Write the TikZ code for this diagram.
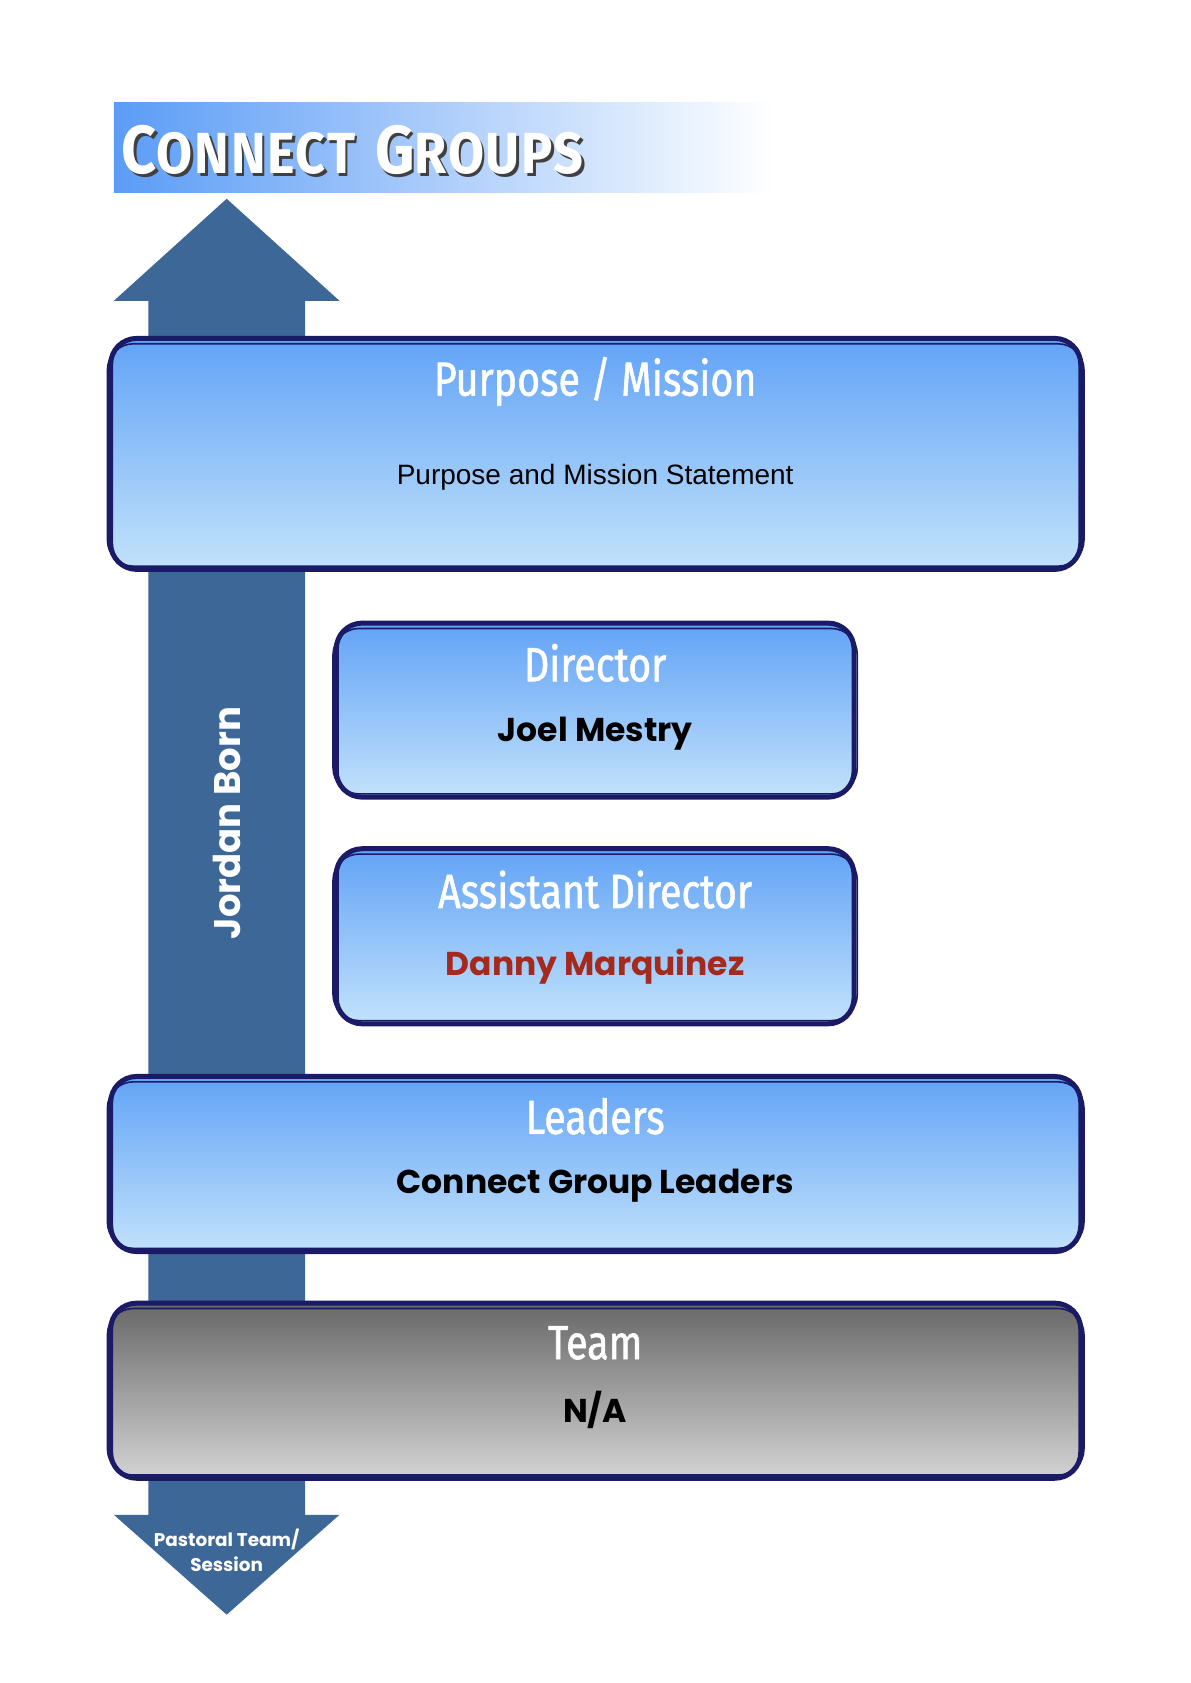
\documentclass[tikz,border=0pt]{standalone}
\usepackage{fontspec}
\setmainfont{Liberation Sans}
\newfontfamily\headfont[FakeStretch=0.82,FakeBold=1.2]{Fira Sans}
\newfontfamily\namefont{Poppins}
\newfontfamily\bannerfont[FakeStretch=0.9,LetterSpace=3]{Fira Sans}
\usetikzlibrary{fit,shadings}
\definecolor{navy}{HTML}{1A1A66}
\definecolor{arrowblue}{HTML}{3D6796}
\definecolor{boxtop}{HTML}{62A3F6}
\definecolor{boxbot}{HTML}{C2E2FB}
\definecolor{graytop}{HTML}{686868}
\definecolor{graybot}{HTML}{D3D3D3}
\definecolor{bannerL}{HTML}{5B9CF6}
\definecolor{namered}{HTML}{A52A1E}
\newcommand\bannerBig[1]{{\fontsize{34}{40}\selectfont #1}}
\newcommand\bannerSmall[1]{{\fontsize{29}{34}\selectfont #1}}
\tikzset{
  panel/.style={draw=navy, line width=2.5pt, rounded corners=13pt, inner sep=0pt,
    top color=boxtop, bottom color=boxbot},
  graypanel/.style={panel, top color=graytop, bottom color=graybot},
  brush/.style={draw=navy, line width=0.8pt, rounded corners=13pt},
  headtxt/.style={font=\headfont\fontsize{24}{28}\selectfont, text=white, inner sep=0pt},
  nametxt/.style={font=\namefont\bfseries\fontsize{16.5}{20}\selectfont, text=black, inner sep=0pt},
  stmttxt/.style={font=\fontsize{14}{17}\selectfont, text=black, inner sep=0pt},
  sidetxt/.style={font=\namefont\bfseries\fontsize{18.5}{22}\selectfont, text=white, inner sep=0pt},
  smalltxt/.style={font=\namefont\bfseries\fontsize{9.2}{12.5}\selectfont, text=white, align=center, inner sep=0pt},
  bannertxt/.style={font=\bannerfont\bfseries, inner sep=0pt, anchor=west},
}
\begin{document}
\begin{tikzpicture}[x=0.5373pt, y=-0.5373pt]
\useasboundingbox (0,0) rectangle (1107.7,1566.6);
% banner
\node (banner) [fit={(106,95)(720,179)}, inner sep=0pt, left color=bannerL, right color=white] {};
\node (titleshadow) [bannertxt, text=black!75] at (115.5,142.5) {\bannerBig{C}\bannerSmall{ONNECT}\hspace{10pt}\bannerBig{G}\bannerSmall{ROUPS}};
\node (title) [bannertxt, text=white] at (113,140) {\bannerBig{C}\bannerSmall{ONNECT}\hspace{10pt}\bannerBig{G}\bannerSmall{ROUPS}};
% double arrow
\fill[arrowblue] (138,1410) -- (138,280) -- (106,280) -- (211,185) -- (316,280) -- (284,280)
  -- (284,1410) -- (316,1410) -- (211,1503) -- (106,1410) -- cycle;
\node (side) [sidetxt, rotate=90] at (211,766) {Jordan Born};
\node (pastoral) [smalltxt] at (211,1443) {Pastoral Team/\\Session};
% panels
\node (purpose) [panel, fit={(103,315)(1006,530)}] {};
\draw[brush] (100,320) rectangle (1009,527);
\node (purposeH) [headtxt] at (554,355) {Purpose / Mission};
\node (purposeS) [stmttxt] at (554,444) {Purpose and Mission Statement};

\node (director) [panel, fit={(313,580)(795,742)}] {};
\draw[brush] (310,585) rectangle (798,739);
\node (directorH) [headtxt] at (554,617) {Director};
\node (directorN) [nametxt] at (554,683) {Joel Mestry};

\node (assistant) [panel, fit={(313,790)(795,953)}] {};
\draw[brush] (310,795) rectangle (798,950);
\node (assistantH) [headtxt] at (554,828) {Assistant Director};
\node (assistantN) [nametxt, text=namered] at (554,900) {Danny Marquinez};

\node (leaders) [panel, fit={(103,1002)(1006,1165)}] {};
\draw[brush] (100,1007) rectangle (1009,1162);
\node (leadersH) [headtxt] at (554,1039) {Leaders};
\node (leadersN) [nametxt] at (554,1104) {Connect Group Leaders};

\node (team) [graypanel, fit={(103,1213)(1006,1376)}] {};
\draw[brush] (100,1218) rectangle (1009,1373);
\node (teamH) [headtxt] at (554,1250) {Team};
\node (teamN) [nametxt] at (554,1312) {N/A};
\end{tikzpicture}
\end{document}
